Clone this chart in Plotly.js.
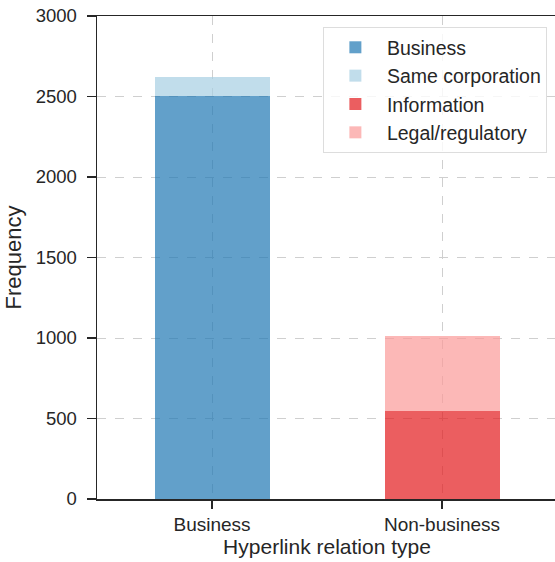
<!DOCTYPE html>
<html>
<head>
<meta charset="utf-8">
<script src="https://cdn.plot.ly/plotly-3.0.1.min.js"></script>
<style>html,body{margin:0;padding:0;background:#fff;overflow:hidden}</style>
</head>
<body>
<div id="chart"></div>
<script>
const categories = ["Business", "Non-business"];
const seriesNames = ["Business", "Same corporation", "Information", "Legal/regulatory"];
const businessVals = [2505, 0];
const sameCorpVals = [115, 0];
const informationVals = [0, 547];
const legalVals = [0, 467];
const yTickVals = [0, 500, 1000, 1500, 2000, 2500, 3000];
const colors = ["rgba(31,120,180,0.7)", "rgba(166,206,227,0.7)", "rgba(227,26,28,0.7)", "rgba(251,154,153,0.7)"];

const seriesVals = [businessVals, sameCorpVals, informationVals, legalVals];
const traces = seriesNames.map((n, i) => ({
  type: "bar",
  name: n,
  legendgroup: "g" + i,
  x: categories,
  y: seriesVals[i],
  width: 0.5,
  marker: {color: colors[i], line: {width: 0}},
  hoverinfo: "skip"
}));

const font = "Arial, 'Liberation Sans', sans-serif";
const layout = {
  width: 557, height: 562,
  margin: {l: 97, r: 0, t: 16, b: 63},
  barmode: "stack",
  paper_bgcolor: "#fff", plot_bgcolor: "#fff",
  font: {family: font, color: "#262626", size: 18},
  xaxis: {
    range: [-0.5, 1.5],
    showline: true, linecolor: "#262626", linewidth: 1.5, mirror: true,
    ticks: "outside", ticklen: 8, tickwidth: 1.2, tickcolor: "#262626",
    showgrid: true, gridcolor: "#cfcfcf", griddash: "dash", gridwidth: 1,
    tickfont: {size: 19},
    title: {text: "Hyperlink relation type", font: {size: 21}, standoff: 2},
    zeroline: false, automargin: false
  },
  yaxis: {
    range: [0, 3000],
    tickvals: yTickVals,
    showline: true, linecolor: "#262626", linewidth: 1.5, mirror: true,
    ticks: "outside", ticklen: 9, tickwidth: 1.2, tickcolor: "#262626",
    showgrid: true, gridcolor: "#cfcfcf", griddash: "dash", gridwidth: 1,
    tickfont: {size: 18.5}, ticklabelstandoff: 6,
    title: {text: "Frequency", font: {size: 22}, standoff: 8},
    zeroline: false, automargin: false
  },
  legend: {
    x: 0.978, xanchor: "right", y: 0.977, yanchor: "top",
    bgcolor: "rgba(255,255,255,0.8)", bordercolor: "#dddddd", borderwidth: 1,
    font: {size: 19.5}, traceorder: "grouped", itemwidth: 53, tracegroupgap: 0
  },
  showlegend: true
};

Plotly.newPlot("chart", traces, layout, {displayModeBar: false, staticPlot: true});
</script>
</body>
</html>
